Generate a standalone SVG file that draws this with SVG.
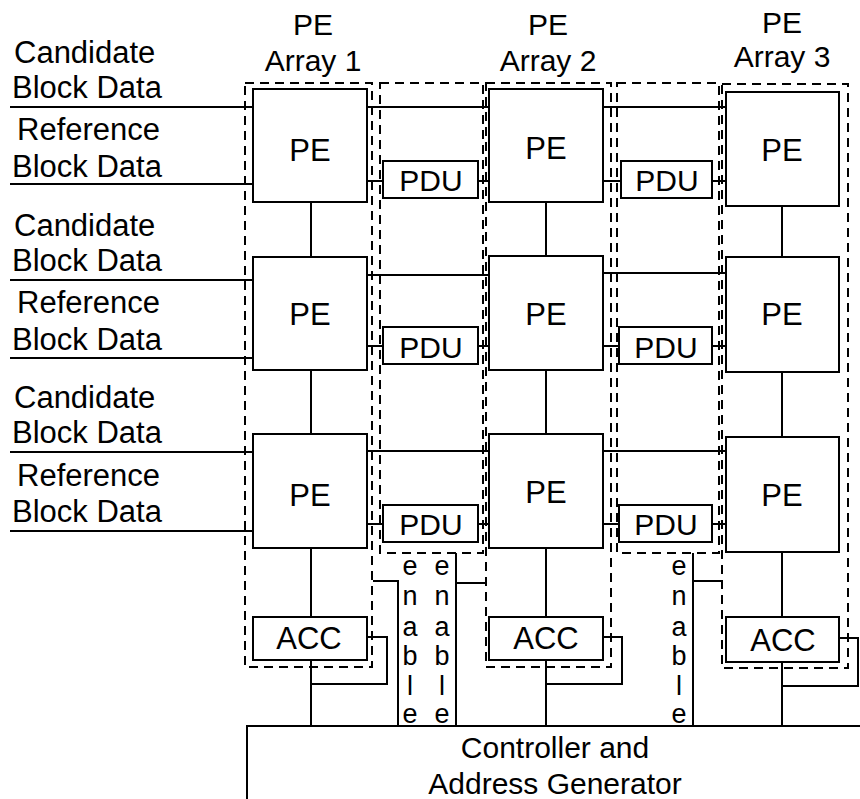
<svg xmlns="http://www.w3.org/2000/svg" width="860" height="799" viewBox="0 0 860 799">
<style>
.box{fill:#fff;stroke:#000;stroke-width:2}
.dash{fill:none;stroke:#000;stroke-width:2;stroke-dasharray:9 6}
.w{fill:none;stroke:#000;stroke-width:2}
text{font-family:"Liberation Sans",Arial,sans-serif;fill:#000}
.t{font-size:31px;text-anchor:middle}
.p{font-size:30px;text-anchor:middle}
.l{font-size:31px}
.e{font-size:27px;text-anchor:middle}
</style>
<rect width="860" height="799" fill="#fff"/>
<g id="frames">
<rect class="dash" x="245" y="83" width="127" height="584"/>
<rect class="dash" x="380" y="83" width="103" height="470"/>
<rect class="dash" x="486" y="83" width="125" height="584"/>
<rect class="dash" x="617" y="83" width="102" height="470"/>
<rect class="dash" x="722" y="84" width="126" height="584"/>
</g>
<g id="connectors">
<path class="w" d="M10 107H253M10 184H253M10 280H253M10 358H253M10 452H253M10 531H253"/>
<path class="w" d="M366 107H489M603 107H726M366 275H489M603 273H726M366 451H489M603 451H726"/>
<path class="w" d="M366 181H383M478 181H489M603 181H621M712 181H726"/>
<path class="w" d="M366 346H383M478 346H489M603 346H619M712 346H726"/>
<path class="w" d="M366 524H383M478 524H489M603 524H619M712 524H726"/>
<path class="w" d="M311 202V257M311 370V434M311 548V617M311 660V726"/>
<path class="w" d="M546 202V256M546 370V434M546 548V617M546 660V726"/>
<path class="w" d="M782 206V257M782 372V437M782 552V617M782 662V726"/>
<path class="w" d="M367 637H387V684H311M603 637H622V684H546M839 638H858V686H782"/>
<path class="w" d="M373 581H398V726M486 583H456M456 553V726M722 581H693M693 553V726"/>
<path class="w" d="M247 799V726H860"/>
</g>
<g id="pe-array-1">
<text class="p" x="313" y="35">PE</text>
<text class="p" x="313" y="71">Array 1</text>
</g>
<g id="pe-array-2">
<text class="p" x="548" y="35">PE</text>
<text class="p" x="548" y="71">Array 2</text>
</g>
<g id="pe-array-3">
<text class="p" x="782" y="33">PE</text>
<text class="p" x="782" y="67">Array 3</text>
</g>
<g id="inputs">
<text class="l" x="14" y="63">Candidate</text>
<text class="l" x="12" y="98">Block Data</text>
<text class="l" x="17" y="140">Reference</text>
<text class="l" x="12" y="177">Block Data</text>
<text class="l" x="14" y="236">Candidate</text>
<text class="l" x="12" y="271">Block Data</text>
<text class="l" x="17" y="313">Reference</text>
<text class="l" x="12" y="350">Block Data</text>
<text class="l" x="14" y="408">Candidate</text>
<text class="l" x="12" y="443">Block Data</text>
<text class="l" x="17" y="486">Reference</text>
<text class="l" x="12" y="522">Block Data</text>
</g>
<g id="pe-1-1"><rect class="box" x="253" y="89" width="114" height="113"/><text class="t" x="310" y="161">PE</text></g>
<g id="pe-2-1"><rect class="box" x="253" y="257" width="114" height="113"/><text class="t" x="310" y="325">PE</text></g>
<g id="pe-3-1"><rect class="box" x="253" y="434" width="114" height="114"/><text class="t" x="310" y="506">PE</text></g>
<g id="pe-1-2"><rect class="box" x="489" y="89" width="114" height="113"/><text class="t" x="546" y="159">PE</text></g>
<g id="pe-2-2"><rect class="box" x="489" y="256" width="114" height="114"/><text class="t" x="546" y="325">PE</text></g>
<g id="pe-3-2"><rect class="box" x="489" y="434" width="114" height="114"/><text class="t" x="546" y="503">PE</text></g>
<g id="pe-1-3"><rect class="box" x="726" y="92" width="113" height="114"/><text class="t" x="782" y="161">PE</text></g>
<g id="pe-2-3"><rect class="box" x="726" y="257" width="113" height="115"/><text class="t" x="782" y="325">PE</text></g>
<g id="pe-3-3"><rect class="box" x="726" y="437" width="113" height="115"/><text class="t" x="782" y="506">PE</text></g>
<g id="pdu-1-1"><rect class="box" x="383" y="161" width="95" height="37"/><text class="p" x="431" y="191">PDU</text></g>
<g id="pdu-2-1"><rect class="box" x="383" y="327" width="95" height="37"/><text class="p" x="431" y="358">PDU</text></g>
<g id="pdu-3-1"><rect class="box" x="383" y="505" width="95" height="37"/><text class="p" x="431" y="535">PDU</text></g>
<g id="pdu-1-2"><rect class="box" x="621" y="161" width="91" height="37"/><text class="p" x="667" y="191">PDU</text></g>
<g id="pdu-2-2"><rect class="box" x="619" y="327" width="93" height="37"/><text class="p" x="666" y="358">PDU</text></g>
<g id="pdu-3-2"><rect class="box" x="619" y="505" width="93" height="37"/><text class="p" x="666" y="535">PDU</text></g>
<g id="acc-1"><rect class="box" x="253" y="617" width="114" height="43"/><text class="t" x="309" y="649">ACC</text></g>
<g id="acc-2"><rect class="box" x="489" y="617" width="114" height="43"/><text class="t" x="546" y="649">ACC</text></g>
<g id="acc-3"><rect class="box" x="726" y="617" width="113" height="45"/><text class="t" x="783" y="651">ACC</text></g>
<g id="enable-1">
<text class="e" x="410" y="575">e</text><text class="e" x="410" y="605">n</text><text class="e" x="410" y="636">a</text><text class="e" x="410" y="665">b</text><text class="e" x="410" y="695">l</text><text class="e" x="410" y="723">e</text>
</g>
<g id="enable-2">
<text class="e" x="442" y="575">e</text><text class="e" x="442" y="605">n</text><text class="e" x="442" y="636">a</text><text class="e" x="442" y="665">b</text><text class="e" x="442" y="695">l</text><text class="e" x="442" y="723">e</text>
</g>
<g id="enable-3">
<text class="e" x="679" y="575">e</text><text class="e" x="679" y="605">n</text><text class="e" x="679" y="636">a</text><text class="e" x="679" y="665">b</text><text class="e" x="679" y="695">l</text><text class="e" x="679" y="723">e</text>
</g>
<g id="controller">
<text class="p" x="555" y="758">Controller and</text>
<text class="p" x="555" y="794">Address Generator</text>
</g>
</svg>
